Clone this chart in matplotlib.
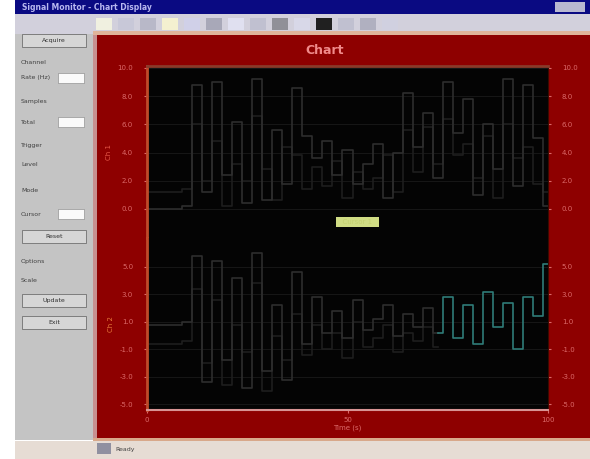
import numpy as np
import matplotlib
matplotlib.use("Agg")
import matplotlib.pyplot as plt
from matplotlib.patches import Rectangle

W, H = 590, 459

# sample times (s) shared by every trace
time_s = np.arange(0, 101, 2.5)

# upper panel traces
upper_a = [0.0, 0.0, 0.0, 0.0, 0.1, 4.4, 0.6, 4.5, 1.2, 3.1, 0.2, 4.6, 0.3, 2.8,
           0.9, 4.3, 2.6, 1.8, 2.4, 1.2, 2.1, 0.9, 1.6, 2.3, 0.4, 2.0, 4.1, 2.2,
           3.4, 1.1, 4.5, 2.7, 3.9, 0.5, 3.0, 1.4, 4.6, 0.8, 4.4, 2.5, 0.1]
upper_b = [0.6, 0.6, 0.6, 0.6, 0.7, 3.0, 1.0, 2.4, 0.1, 1.6, 1.0, 3.3, 1.4, 0.3,
           2.2, 1.9, 0.7, 1.5, 0.8, 1.7, 0.4, 1.3, 0.7, 1.1, 1.9, 0.6, 2.8, 1.3,
           2.9, 1.6, 3.2, 1.9, 2.3, 1.1, 2.6, 0.4, 3.0, 1.8, 2.2, 0.9, 0.6]

# lower panel traces (gray part, then cyan part from index 29)
lower_c = [2.9, 2.9, 2.9, 2.9, 3.0, 5.4, 0.8, 5.2, 1.6, 4.6, 0.6, 5.5, 1.2, 3.6,
           0.9, 4.8, 2.2, 3.9, 2.6, 3.4, 2.4, 3.8, 2.7, 3.1, 3.6, 2.5, 3.3, 2.8,
           3.5, 2.6]
lower_d = [2.6, 3.9, 2.4, 3.6, 2.2, 4.1, 2.8, 3.7, 2.0, 3.9, 3.2, 5.1]
lower_e = [2.2, 2.2, 2.2, 2.2, 2.3, 4.2, 1.5, 3.8, 0.7, 2.9, 1.9, 4.4, 0.5, 2.5,
           1.6, 3.3, 1.8, 2.9, 2.0, 2.6, 1.7, 3.0, 2.1, 2.4, 2.9, 1.9, 2.6, 2.3,
           2.8, 2.1]

y_ticks = [0, 1, 2, 3, 4, 5]
upper_labels = ["0.0", "2.0", "4.0", "6.0", "8.0", "10.0"]
lower_labels = ["-5.0", "-3.0", "-1.0", "1.0", "3.0", "5.0"]
x_ticks = [0, 50, 100]
x_labels = ["0", "50", "100"]

RED = "#8e0000"
PINK = "#dc6a6a"


def box(ax, x, y, w, h, color, edge=None, lw=0.6):
    ax.add_patch(Rectangle((x, y), w, h, facecolor=color,
                           edgecolor=edge if edge else "none", linewidth=lw))


fig = plt.figure(figsize=(W / 100, H / 100), dpi=100, facecolor="white")
bg = fig.add_axes([0, 0, 1, 1])
bg.set_xlim(0, W)
bg.set_ylim(H, 0)
bg.axis("off")

# window chrome
box(bg, 15, 0, 575, 14, "#0a0a82")
box(bg, 555, 2, 30, 10, "#b8b8d0")
bg.text(22, 7, "Signal Monitor - Chart Display", color="#b8b8f0",
        fontsize=5.5, va="center", fontweight="bold")
box(bg, 15, 14, 575, 20, "#d2d0dc")
for i, c in enumerate(["#f0f0e0", "#c8c8d8", "#b8b8c8", "#f4f0d0", "#d0d0e8",
                       "#a8a8b8", "#e0e0f0", "#c0c0d0", "#909098", "#d8d8e8",
                       "#202020", "#c0c0d0", "#b0b0c0", "#d0d0e0"]):
    box(bg, 96 + i * 22, 18, 16, 12, c)
box(bg, 93, 31, 497, 4, "#e0b49a")
box(bg, 15, 34, 78, 406, "#c4c4c4")
box(bg, 93, 35, 497, 405, RED)
box(bg, 93, 35, 4, 405, "#c89090")
box(bg, 93, 438, 497, 3, "#d8a88a")
box(bg, 15, 441, 575, 18, "#e6dcd4")
box(bg, 97, 443, 14, 11, "#9090a0")
bg.text(115, 449, "Ready", fontsize=4.5, color="#404040", va="center")

# left control panel
panel_items = [("Acquire", 40, True), ("Channel", 62, False), ("Rate (Hz)", 78, False),
               ("Samples", 102, False), ("Total", 122, False), ("Trigger", 146, False),
               ("Level", 164, False), ("Mode", 190, False), ("Cursor", 214, False),
               ("Reset", 236, True), ("Options", 262, False), ("Scale", 280, False),
               ("Update", 300, True), ("Exit", 322, True)]
for label, y, is_button in panel_items:
    if is_button:
        box(bg, 22, y - 6, 64, 13, "#d6d6d6", edge="#707070")
        bg.text(54, y + 0.5, label, fontsize=4.5, color="#303030",
                ha="center", va="center")
    else:
        bg.text(21, y, label, fontsize=4.5, color="#404040", va="center")
for y in (78, 122, 214):
    box(bg, 58, y - 5, 26, 10, "#fafafa", edge="#808080", lw=0.4)

bg.text(325, 50, "Chart", color="#f08a8a", fontsize=9, ha="center",
        va="center", fontweight="bold")

# plot panels
left, right = 147 / W, 548 / W
ax_up = fig.add_axes([left, 1 - 238 / H, right - left, (238 - 66) / H])
ax_lo = fig.add_axes([left, 1 - 410 / H, right - left, (410 - 238) / H])

for ax in (ax_up, ax_lo):
    ax.set_facecolor("#040404")
    ax.set_xlim(0, 100)
    ax.set_yticks(y_ticks)
    ax.grid(True, axis="y", color="#161616", linewidth=0.8)
    ax.tick_params(axis="y", colors=PINK, labelsize=5, length=2,
                   right=True, labelright=True, pad=8)
    for side in ("left", "right", "top", "bottom"):
        ax.spines[side].set_color("#3a0a00")
    ax.spines["left"].set_color("#c04a2a")
    ax.spines["left"].set_linewidth(2)

ax_up.set_ylim(-1.03, 5.07)
ax_up.set_yticklabels(upper_labels)
ax_up.set_xticks([])
ax_up.spines["top"].set_color("#8a3a2a")
ax_up.spines["top"].set_linewidth(2)
ax_up.spines["bottom"].set_visible(False)
ax_up.set_ylabel("Ch 1", color="#e85a4a", fontsize=5, labelpad=4)

ax_lo.set_ylim(-0.2, 6.05)
ax_lo.set_yticklabels(lower_labels)
ax_lo.spines["top"].set_visible(False)
ax_lo.spines["bottom"].set_color("#d89494")
ax_lo.spines["bottom"].set_linewidth(1.5)
ax_lo.set_xticks(x_ticks)
ax_lo.set_xticklabels(x_labels)
ax_lo.tick_params(axis="x", colors=PINK, labelsize=5, length=2, pad=3)
ax_lo.set_xlabel("Time (s)", color=PINK, fontsize=5, labelpad=1)
ax_lo.set_ylabel("Ch 2", color="#e87a3a", fontsize=5, labelpad=4)

ax_up.plot(time_s, upper_b, color="#1e1e1e", linewidth=1.2, drawstyle="steps-mid")
ax_up.plot(time_s, upper_a, color="#2e2e2e", linewidth=1.2, drawstyle="steps-mid")
ax_up.text(52.5, -0.46, "  Cursor 1  ", fontsize=5, color="#c4d070",
           ha="center", va="center",
           bbox=dict(boxstyle="square,pad=0.3", facecolor="#d0dc84",
                     edgecolor="none"))

n_gray = len(lower_c)
ax_lo.plot(time_s[:len(lower_e)], lower_e, color="#1e1e1e", linewidth=1.2,
           drawstyle="steps-mid")
ax_lo.plot(time_s[:n_gray], lower_c, color="#2e2e2e", linewidth=1.2,
           drawstyle="steps-mid")
ax_lo.plot(time_s[n_gray - 1:], lower_d, color="#2f7c78", linewidth=1.2,
           drawstyle="steps-mid")

fig.savefig("out.png", dpi=100, facecolor="white")
